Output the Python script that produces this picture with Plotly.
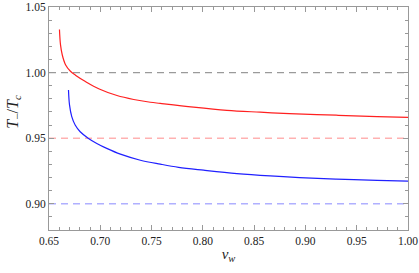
import plotly.graph_objects as go

# Red curve (upper)
red_vw = [0.6602, 0.6612, 0.6629, 0.6661, 0.6709, 0.6758, 0.6855, 0.6990, 0.7163, 0.7326,
          0.7488, 0.7584, 0.7909, 0.8234, 0.8558, 0.8843, 0.9300, 0.9700, 1.0000]
red_T = [1.0328, 1.0213, 1.0136, 1.0060, 1.0010, 0.9980, 0.9932, 0.9875, 0.9825, 0.9795,
         0.9774, 0.9765, 0.9736, 0.9712, 0.9698, 0.9687, 0.9675, 0.9665, 0.9659]

# Blue curve (lower)
blue_vw = [0.6690, 0.6700, 0.6722, 0.6755, 0.6804, 0.6885, 0.6966, 0.7063, 0.7196, 0.7391,
           0.7585, 0.7763, 0.8007, 0.8332, 0.8656, 0.8942, 0.9300, 0.9700, 1.0000]
blue_T = [0.9868, 0.9754, 0.9664, 0.9600, 0.9549, 0.9498, 0.9460, 0.9422, 0.9378, 0.9332,
          0.9302, 0.9278, 0.9256, 0.9230, 0.9212, 0.9200, 0.9188, 0.9178, 0.9172]

# Reference horizontal levels
ref_levels = [1.00, 0.95, 0.90]
ref_colors = ["#9a9a9a", "#ff8c8c", "#b0b0ff"]
ref_widths = [1.2, 1.0, 1.6]

x_ticks = [0.65, 0.70, 0.75, 0.80, 0.85, 0.90, 0.95, 1.00]
y_ticks = [0.90, 0.95, 1.00, 1.05]

SERIF = "Liberation Serif"

fig = go.Figure()
for lvl, col, w in zip(ref_levels, ref_colors, ref_widths):
    fig.add_trace(go.Scatter(x=[0.65, 1.00], y=[lvl, lvl], mode="lines",
                             line=dict(color=col, width=w, dash="7px,5px"),
                             hoverinfo="skip", showlegend=False))

fig.add_trace(go.Scatter(x=red_vw, y=red_T, mode="lines",
                         line=dict(color="#ff2020", width=1.2, shape="spline", smoothing=1.0),
                         showlegend=False))
fig.add_trace(go.Scatter(x=blue_vw, y=blue_T, mode="lines",
                         line=dict(color="#2020ff", width=1.2, shape="spline", smoothing=1.0),
                         showlegend=False))

axis_common = dict(
    showgrid=False, zeroline=False, showline=True, linecolor="#999999", linewidth=1,
    mirror="ticks", ticks="inside", ticklen=5, tickcolor="#999999", tickwidth=1,
    tickfont=dict(family=SERIF, size=11.5, color="#222222"),
    tickformat=".2f", automargin=False, ticklabeloverflow="allow",
)

fig.update_xaxes(**axis_common, range=[0.65, 1.00], tickvals=x_ticks,
                 minor=dict(dtick=0.01, ticks="inside", ticklen=3, tickcolor="#999999", showgrid=False),
                 title=dict(text="<i>v<sub>w</sub></i>",
                            font=dict(family=SERIF, size=15, color="#222222"),
                            standoff=2))
fig.update_yaxes(**axis_common, range=[0.88, 1.05], tickvals=y_ticks,
                 minor=dict(dtick=0.01, ticks="inside", ticklen=3, tickcolor="#999999", showgrid=False))

fig.add_annotation(text="<i>T</i><sub>−</sub>/<i>T<sub>c</sub></i>", textangle=-90,
                   xref="paper", yref="paper", x=-0.098, y=0.53, xanchor="center", yanchor="middle",
                   showarrow=False, font=dict(family=SERIF, size=16, color="#222222"))

fig.update_layout(width=419, height=273, margin=dict(l=49, r=11, t=7, b=43),
                  plot_bgcolor="white", paper_bgcolor="white",
                  font=dict(family=SERIF))

fig.write_html("out.html", config={"displayModeBar": False},
               post_script="document.body.style.margin='0';document.body.style.padding='0';")
